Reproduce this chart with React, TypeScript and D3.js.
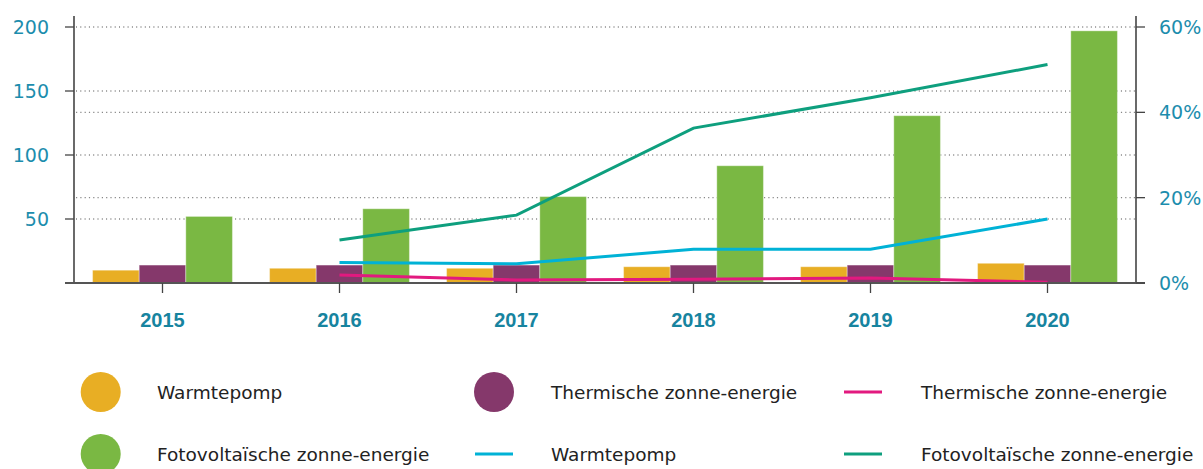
import React, { useRef, useEffect } from "react";
import * as d3 from "d3";

const years = ["2015", "2016", "2017", "2018", "2019", "2020"];
const lineYears = ["2016", "2017", "2018", "2019", "2020"];

// bars, left axis
const warmtepompBars = [10, 11.5, 11.5, 12.7, 12.7, 15.4];
const thermischBars = [14, 14, 14, 14, 14, 14];
const fotovoltaischBars = [52, 58, 67.5, 91.6, 130.7, 197];

// lines, right axis (%)
const warmtepompPct = [4.8, 4.5, 7.9, 7.9, 15];
const thermischPct = [1.9, 0.7, 0.9, 1.2, 0.2];
const fotovoltaischPct = [10.1, 15.9, 36.3, 43.4, 51.2];

const leftTicks = [50, 100, 150, 200];
const rightTicks = [0, 20, 40, 60];

const barKeys = ["warmtepomp", "thermisch", "fotovoltaisch"];
const barColors: Record<string, string> = {
  warmtepomp: "#E8AE24",
  thermisch: "#85386B",
  fotovoltaisch: "#7AB843",
};

const legendItems = [
  { label: "Warmtepomp", kind: "dot", color: "#E8AE24" },
  { label: "Thermische zonne-energie", kind: "dot", color: "#85386B" },
  { label: "Thermische zonne-energie", kind: "line", color: "#E2197F" },
  { label: "Fotovoltaïsche zonne-energie", kind: "dot", color: "#7AB843" },
  { label: "Warmtepomp", kind: "line", color: "#00B2D6" },
  { label: "Fotovoltaïsche zonne-energie", kind: "line", color: "#0E9F7E" },
];

const ChartSvg: React.FC = () => {
  const ref = useRef<SVGSVGElement | null>(null);

  useEffect(() => {
    if (!ref.current) return;
    const svg = d3.select(ref.current);
    svg.selectAll("*").remove();

    const width = 1203;
    const height = 469;
    const left = 74;
    const right = 1136;
    const top = 27;
    const bottom = 283;
    const labelColor = "#1C8DAD";
    const font = "'DejaVu Sans', sans-serif";

    svg.attr("width", width).attr("height", height);

    const x0 = d3
      .scaleBand()
      .domain(years)
      .range([left, right])
      .paddingInner(0.21)
      .paddingOuter(0.105);

    const x1 = d3.scaleBand().domain(barKeys).range([0, x0.bandwidth()]);

    const step = x0.step();
    const cx = (yr: string) => (x0(yr) || 0) + x0.bandwidth() / 2;

    const yL = d3.scaleLinear().domain([0, 200]).range([bottom, top]);
    const yR = d3.scaleLinear().domain([0, 60]).range([bottom, top]);

    // grid
    const grid = svg.append("g");
    grid
      .selectAll("line.l")
      .data(leftTicks)
      .enter()
      .append("line")
      .attr("x1", left + 2)
      .attr("x2", right)
      .attr("y1", (d) => yL(d))
      .attr("y2", (d) => yL(d))
      .attr("stroke", "#444")
      .attr("stroke-width", 1.2)
      .attr("stroke-dasharray", "1,3.3");
    grid
      .selectAll("line.r")
      .data(rightTicks.filter((d) => d > 0 && d < 60))
      .enter()
      .append("line")
      .attr("x1", left + 2)
      .attr("x2", right)
      .attr("y1", (d) => yR(d))
      .attr("y2", (d) => yR(d))
      .attr("stroke", "#888")
      .attr("stroke-width", 1.4)
      .attr("stroke-dasharray", "1.2,3.1");

    // bars
    const rows = years.map((yr, i) => ({
      yr,
      vals: [
        { key: "warmtepomp", value: warmtepompBars[i] },
        { key: "thermisch", value: thermischBars[i] },
        { key: "fotovoltaisch", value: fotovoltaischBars[i] },
      ],
    }));

    svg
      .append("g")
      .selectAll("g")
      .data(rows)
      .enter()
      .append("g")
      .attr("transform", (d) => `translate(${x0(d.yr)},0)`)
      .selectAll("rect")
      .data((d) => d.vals)
      .enter()
      .append("rect")
      .attr("x", (d) => x1(d.key) || 0)
      .attr("y", (d) => yL(d.value))
      .attr("width", x1.bandwidth())
      .attr("height", (d) => bottom - yL(d.value))
      .attr("fill", (d) => barColors[d.key])
      .attr("stroke", "rgba(255,255,255,0.35)")
      .attr("stroke-width", 1);

    // lines
    const line = d3
      .line<{ yr: string; v: number }>()
      .x((d) => cx(d.yr))
      .y((d) => yR(d.v));

    const series = [
      { vals: fotovoltaischPct, color: "#0E9F7E" },
      { vals: warmtepompPct, color: "#00B2D6" },
      { vals: thermischPct, color: "#E2197F" },
    ];
    series.forEach((s) => {
      svg
        .append("path")
        .datum(lineYears.map((yr, i) => ({ yr, v: s.vals[i] })))
        .attr("d", line)
        .attr("fill", "none")
        .attr("stroke", s.color)
        .attr("stroke-width", 3);
    });

    // axes
    const axisColor = "#444";
    svg
      .append("line")
      .attr("x1", left)
      .attr("x2", left)
      .attr("y1", 16)
      .attr("y2", bottom)
      .attr("stroke", axisColor)
      .attr("stroke-width", 1.6);
    svg
      .append("line")
      .attr("x1", right)
      .attr("x2", right)
      .attr("y1", 16)
      .attr("y2", bottom)
      .attr("stroke", axisColor)
      .attr("stroke-width", 1.6);
    svg
      .append("line")
      .attr("x1", left - 9)
      .attr("x2", right + 9)
      .attr("y1", bottom)
      .attr("y2", bottom)
      .attr("stroke", "#555")
      .attr("stroke-width", 2);

    const lt = svg.append("g").selectAll("g").data(leftTicks).enter().append("g");
    lt.append("line")
      .attr("x1", left - 9)
      .attr("x2", left)
      .attr("y1", (d) => yL(d))
      .attr("y2", (d) => yL(d))
      .attr("stroke", axisColor)
      .attr("stroke-width", 1.3);
    lt.append("text")
      .attr("x", left - 25)
      .attr("y", (d) => yL(d))
      .attr("dy", "0.36em")
      .attr("text-anchor", "end")
      .attr("fill", labelColor)
      .attr("font-family", font)
      .attr("font-size", 19)
      .text((d) => d);

    const rt = svg.append("g").selectAll("g").data(rightTicks).enter().append("g");
    rt.append("line")
      .attr("x1", right)
      .attr("x2", right + 9)
      .attr("y1", (d) => yR(d))
      .attr("y2", (d) => yR(d))
      .attr("stroke", axisColor)
      .attr("stroke-width", 1.3);
    rt.append("text")
      .attr("x", right + 23)
      .attr("y", (d) => yR(d))
      .attr("dy", "0.36em")
      .attr("fill", labelColor)
      .attr("font-family", font)
      .attr("font-size", 19)
      .text((d) => `${d}%`);

    const bt = svg.append("g").selectAll("g").data(years).enter().append("g");
    bt.append("line")
      .attr("x1", (d) => cx(d))
      .attr("x2", (d) => cx(d))
      .attr("y1", bottom)
      .attr("y2", bottom + 10)
      .attr("stroke", axisColor)
      .attr("stroke-width", 1.3);
    bt.append("text")
      .attr("x", (d) => cx(d))
      .attr("y", 327)
      .attr("text-anchor", "middle")
      .attr("fill", "#17849F")
      .attr("font-family", "'Liberation Sans', Arial, sans-serif")
      .attr("font-weight", "bold")
      .attr("font-size", 20)
      .text((d) => d);

    // legend
    const colX = [100.7, 494, 863];
    const textX = [157, 551, 921];
    const rowY = [392, 454];
    const lg = svg
      .append("g")
      .selectAll("g")
      .data(legendItems)
      .enter()
      .append("g");
    lg.each(function (d, i) {
      const g = d3.select(this);
      const c = i % 3;
      const r = Math.floor(i / 3);
      if (d.kind === "dot") {
        g.append("circle")
          .attr("cx", colX[c])
          .attr("cy", rowY[r])
          .attr("r", 20)
          .attr("fill", d.color);
      } else {
        g.append("line")
          .attr("x1", colX[c] - 19)
          .attr("x2", colX[c] + 19)
          .attr("y1", rowY[r])
          .attr("y2", rowY[r])
          .attr("stroke", d.color)
          .attr("stroke-width", 3);
      }
      g.append("text")
        .attr("x", textX[c])
        .attr("y", rowY[r])
        .attr("dy", "0.36em")
        .attr("fill", "#222")
        .attr("font-family", font)
        .attr("font-size", 18.5)
        .text(d.label);
    });
    void step;
  }, []);

  return <svg ref={ref} style={{ position: "absolute", left: 0, top: 0 }} />;
};

export default function App() {
  return <ChartSvg />;
}
